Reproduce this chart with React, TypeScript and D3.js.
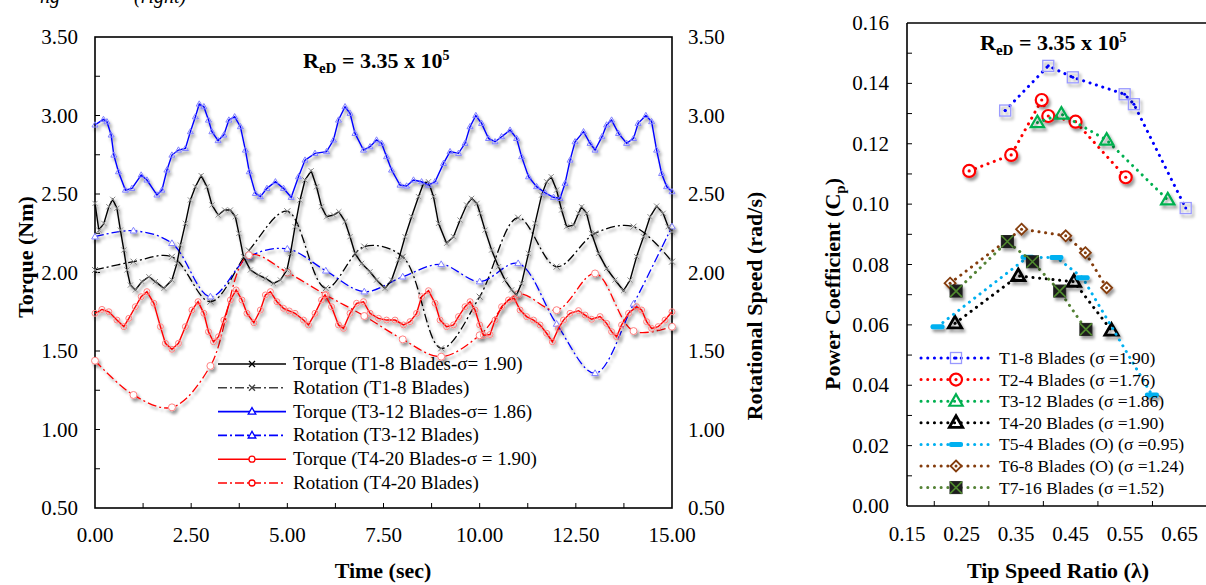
import React from 'react'
import * as d3 from 'd3'

// ---- left chart: torque traces [time (s), torque (Nm)]
const torqueT1: [number, number][] = [
  [0, 2.44], [0.1, 2.27], [0.23, 2.313], [0.36, 2.419], [0.46, 2.466], [0.57, 2.409], [0.66, 2.27],
  [0.75, 2.143], [0.83, 2.016], [0.92, 1.92], [1.05, 1.889], [1.22, 1.942], [1.4, 1.973], [1.57, 1.942],
  [1.79, 1.899], [2.0, 1.952], [2.13, 2.058], [2.22, 2.175], [2.35, 2.313], [2.48, 2.462], [2.61, 2.546],
  [2.76, 2.617], [2.91, 2.546], [3.04, 2.43], [3.2, 2.366], [3.37, 2.398], [3.52, 2.398], [3.65, 2.355],
  [3.74, 2.249], [3.86, 2.101], [4.04, 2.016], [4.25, 1.984], [4.43, 1.963], [4.64, 1.931], [4.82, 1.952],
  [4.99, 2.016], [5.08, 2.12], [5.2, 2.292], [5.33, 2.462], [5.46, 2.589], [5.62, 2.648], [5.76, 2.546],
  [5.89, 2.419], [6.02, 2.355], [6.2, 2.366], [6.34, 2.387], [6.5, 2.324], [6.63, 2.228], [6.76, 2.122],
  [6.93, 2.058], [7.15, 2.005], [7.32, 1.952], [7.54, 1.899], [7.71, 1.952], [7.89, 2.08], [8.06, 2.228],
  [8.23, 2.355], [8.41, 2.483], [8.54, 2.568], [8.67, 2.578], [8.8, 2.483], [8.93, 2.313], [9.14, 2.186],
  [9.32, 2.228], [9.49, 2.334], [9.66, 2.43], [9.79, 2.472], [9.93, 2.44], [10.01, 2.377], [10.14, 2.27],
  [10.31, 2.143], [10.49, 2.037], [10.66, 1.952], [10.83, 1.889], [10.96, 1.857], [11.09, 1.931],
  [11.27, 2.122], [11.44, 2.313], [11.61, 2.493], [11.74, 2.578], [11.86, 2.61], [12.0, 2.525],
  [12.13, 2.398], [12.26, 2.292], [12.44, 2.302], [12.57, 2.377], [12.65, 2.419], [12.78, 2.377],
  [12.91, 2.249], [13.09, 2.122], [13.3, 2.026], [13.52, 1.952], [13.74, 1.884], [13.91, 1.952],
  [14.08, 2.101], [14.26, 2.228], [14.43, 2.355], [14.6, 2.423], [14.77, 2.377], [14.9, 2.292], [15, 2.26],
]

const torqueT3: [number, number][] = [
  [0, 2.94], [0.22, 2.975], [0.31, 2.96], [0.42, 2.876], [0.49, 2.748], [0.61, 2.642], [0.79, 2.525],
  [0.96, 2.536], [1.2, 2.621], [1.35, 2.589], [1.61, 2.494], [1.74, 2.525], [1.87, 2.653], [2.0, 2.748],
  [2.17, 2.78], [2.35, 2.79], [2.48, 2.897], [2.61, 2.992], [2.71, 3.073], [2.83, 3.056], [2.95, 2.971],
  [3.04, 2.897], [3.2, 2.84], [3.35, 2.876], [3.48, 2.971], [3.63, 2.992], [3.78, 2.929], [3.91, 2.78],
  [4.01, 2.642], [4.17, 2.504], [4.3, 2.483], [4.47, 2.536], [4.69, 2.578], [4.9, 2.536], [5.1, 2.479],
  [5.29, 2.61], [5.46, 2.716], [5.72, 2.759], [6.02, 2.77], [6.2, 2.844], [6.33, 2.971], [6.5, 3.056],
  [6.63, 3.014], [6.76, 2.886], [6.98, 2.78], [7.15, 2.801], [7.32, 2.844], [7.45, 2.823], [7.58, 2.738],
  [7.71, 2.653], [7.93, 2.557], [8.1, 2.551], [8.28, 2.589], [8.49, 2.578], [8.67, 2.557], [8.84, 2.578],
  [9.06, 2.695], [9.23, 2.77], [9.45, 2.759], [9.62, 2.823], [9.75, 2.929], [9.9, 3.0], [10.05, 2.95],
  [10.23, 2.854], [10.4, 2.833], [10.57, 2.865], [10.79, 2.907], [10.96, 2.854], [11.09, 2.738],
  [11.27, 2.61], [11.48, 2.547], [11.7, 2.508], [11.92, 2.479], [12.09, 2.472], [12.22, 2.568],
  [12.35, 2.716], [12.48, 2.833], [12.7, 2.897], [12.87, 2.823], [13.0, 2.78], [13.18, 2.865],
  [13.3, 2.94], [13.43, 2.971], [13.61, 2.886], [13.82, 2.823], [14.0, 2.854], [14.12, 2.95],
  [14.32, 3.0], [14.47, 2.961], [14.6, 2.78], [14.73, 2.631], [14.86, 2.547], [15, 2.515],
]

const torqueT4: [number, number][] = [
  [0, 1.74], [0.18, 1.765], [0.36, 1.75], [0.57, 1.697], [0.75, 1.655], [0.88, 1.708], [1.05, 1.782],
  [1.2, 1.846], [1.35, 1.878], [1.53, 1.804], [1.7, 1.655], [1.83, 1.549], [2.0, 1.511], [2.17, 1.549],
  [2.35, 1.655], [2.52, 1.761], [2.68, 1.814], [2.83, 1.74], [2.95, 1.623], [3.08, 1.559], [3.21, 1.591],
  [3.35, 1.697], [3.52, 1.825], [3.67, 1.889], [3.82, 1.825], [3.95, 1.74], [4.13, 1.68], [4.3, 1.761],
  [4.43, 1.857], [4.56, 1.878], [4.73, 1.814], [4.9, 1.772], [5.05, 1.755], [5.2, 1.74], [5.42, 1.697],
  [5.55, 1.666], [5.72, 1.74], [5.89, 1.825], [5.98, 1.857], [6.15, 1.782], [6.33, 1.666], [6.46, 1.644],
  [6.63, 1.74], [6.8, 1.804], [6.98, 1.814], [7.15, 1.74], [7.37, 1.708], [7.58, 1.697], [7.8, 1.697],
  [8.02, 1.666], [8.19, 1.687], [8.36, 1.74], [8.49, 1.846], [8.67, 1.884], [8.84, 1.804], [8.97, 1.697],
  [9.14, 1.655], [9.32, 1.666], [9.45, 1.719], [9.62, 1.782], [9.75, 1.814], [9.88, 1.761], [10.0, 1.666],
  [10.1, 1.6], [10.27, 1.605], [10.4, 1.697], [10.57, 1.782], [10.75, 1.825], [10.9, 1.835], [11.05, 1.761],
  [11.22, 1.719], [11.4, 1.697], [11.57, 1.666], [11.74, 1.613], [11.89, 1.559], [12.05, 1.644],
  [12.18, 1.697], [12.35, 1.74], [12.57, 1.757], [12.74, 1.729], [12.91, 1.702], [13.13, 1.719],
  [13.3, 1.676], [13.43, 1.623], [13.56, 1.591], [13.69, 1.666], [13.87, 1.74], [14.08, 1.782],
  [14.21, 1.761], [14.34, 1.687], [14.47, 1.644], [14.64, 1.655], [14.82, 1.697], [15, 1.75],
]

// rotational speed (rad/s), one reading per second
const rotationTime = [0, 1, 2, 3, 4, 5, 6, 7, 8, 9, 10, 11, 12, 13, 14, 15]
const rotationT1 = [2.016, 2.069, 2.1, 1.814, 2.14, 2.39, 1.9, 2.165, 2.1, 1.517, 1.846, 2.349, 2.037, 2.249, 2.292, 2.069]
const rotationT3 = [2.228, 2.266, 2.186, 1.846, 2.1, 2.15, 2.011, 1.878, 1.973, 2.052, 1.942, 2.058, 1.672, 1.358, 1.8, 2.292]
const rotationT4 = [1.438, 1.22, 1.141, 1.405, 2.11, 2.0, 1.857, 1.723, 1.574, 1.464, 1.6, 1.862, 1.76, 1.994, 1.627, 1.655]

const torqueTicks = [0.5, 1.0, 1.5, 2.0, 2.5, 3.0, 3.5]
const timeTicks = [0, 2.5, 5, 7.5, 10, 12.5, 15]

// ---- right chart: tip speed ratio vs power coefficient
const tsrT1 = [0.33, 0.409, 0.454, 0.549, 0.566, 0.661]
const cpT1 = [0.131, 0.1458, 0.142, 0.1364, 0.1331, 0.0987]
const tsrT2 = [0.264, 0.341, 0.397, 0.409, 0.459, 0.551]
const cpT2 = [0.111, 0.1163, 0.1345, 0.1292, 0.1273, 0.1089]
const tsrT3 = [0.389, 0.433, 0.516, 0.628]
const cpT3 = [0.127, 0.1298, 0.1212, 0.1014]
const tsrT4 = [0.238, 0.354, 0.456, 0.525]
const cpT4 = [0.0605, 0.0762, 0.0743, 0.0581]
const tsrT5 = [0.206, 0.371, 0.424, 0.472, 0.599]
const cpT5 = [0.0594, 0.0824, 0.0823, 0.0756, 0.0368]
const tsrT6 = [0.229, 0.36, 0.441, 0.477, 0.516]
const cpT6 = [0.0738, 0.0917, 0.0895, 0.0839, 0.0723]
const tsrT7 = [0.24, 0.334, 0.38, 0.43, 0.478]
const cpT7 = [0.0712, 0.0876, 0.0809, 0.0712, 0.0585]

const cpTicks = [0, 0.02, 0.04, 0.06, 0.08, 0.1, 0.12, 0.14, 0.16]
const tsrTicks = [0.15, 0.25, 0.35, 0.45, 0.55, 0.65]

const leftLegend = [
  'Torque (T1-8 Blades-σ= 1.90)',
  'Rotation (T1-8 Blades)',
  'Torque (T3-12 Blades-σ= 1.86)',
  'Rotation (T3-12 Blades)',
  'Torque (T4-20 Blades-σ = 1.90)',
  'Rotation (T4-20 Blades)',
]
const rightLegend = [
  'T1-8 Blades (σ =1.90)',
  'T2-4 Blades (σ =1.76)',
  'T3-12 Blades (σ =1.86)',
  'T4-20 Blades (σ =1.90)',
  'T5-4 Blades (O) (σ =0.95)',
  'T6-8 Blades (O) (σ =1.24)',
  'T7-16 Blades (σ =1.52)',
]

const FONT = "'Liberation Serif', 'Times New Roman', serif"
const DASHDOT = '9,3,2,3'
const DOTTED = '0.1,6.6'

type Kind = 'x' | 'triangle' | 'circle' | 'square' | 'diamond' | 'dash' | 'xsquare' | 'circledot'

function Marker({ kind, x, y, s, color, sw = 1.2, fill = 'none', extra }: any) {
  if (kind === 'x')
    return (
      <path d={`M${x - s},${y - s}L${x + s},${y + s}M${x - s},${y + s}L${x + s},${y - s}`} stroke={color} strokeWidth={sw} />
    )
  if (kind === 'triangle')
    return (
      <path
        d={`M${x},${y - s}L${x + s * 0.95},${y + s * 0.65}L${x - s * 0.95},${y + s * 0.65}Z`}
        stroke={color}
        strokeWidth={sw}
        fill={fill}
        strokeLinejoin="miter"
      />
    )
  if (kind === 'circle') return <circle cx={x} cy={y} r={s} stroke={color} strokeWidth={sw} fill={fill} />
  if (kind === 'circledot')
    return (
      <g>
        <circle cx={x} cy={y} r={s} stroke={color} strokeWidth={sw} fill="white" />
        <circle cx={x} cy={y} r={1.6} fill={color} />
      </g>
    )
  if (kind === 'square')
    return (
      <g>
        <rect x={x - s} y={y - s} width={2 * s} height={2 * s} stroke={color} strokeWidth={sw} fill="none" />
        <circle cx={x} cy={y} r={1.5} fill={extra} />
      </g>
    )
  if (kind === 'diamond')
    return (
      <g>
        <path d={`M${x},${y - s}L${x + s},${y}L${x},${y + s}L${x - s},${y}Z`} stroke={color} strokeWidth={sw} fill="white" />
        <circle cx={x} cy={y} r={1.5} fill={color} />
      </g>
    )
  if (kind === 'dash')
    return <rect x={x - 7} y={y - 2.5} width={14} height={5} rx={2} fill={color} />
  // xsquare
  return (
    <g>
      <rect x={x - s} y={y - s} width={2 * s} height={2 * s} fill="#1e1e1e" stroke="#1e1e1e" />
      <path d={`M${x - s},${y - s}L${x + s},${y + s}M${x - s},${y + s}L${x + s},${y - s}`} stroke={color} strokeWidth={1.6} />
    </g>
  )
}

function Reynolds({ x, y }: { x: number; y: number }) {
  return (
    <text x={x} y={y} fontFamily={FONT} fontWeight="bold" fontSize={22}>
      R
      <tspan fontSize={15} dy={5}>eD</tspan>
      <tspan dy={-5}> = 3.35 x 10</tspan>
      <tspan fontSize={14} dy={-8}>5</tspan>
    </text>
  )
}

export default function App() {
  // left panel scales
  const xL = d3.scaleLinear().domain([0, 15]).range([95, 672])
  const yL = d3.scaleLinear().domain([0.5, 3.5]).range([508, 37])
  // right panel scales
  const xR = d3.scaleLinear().domain([0.15, 0.7]).range([907, 1207])
  const yR = d3.scaleLinear().domain([0, 0.16]).range([506, 23])

  const torqueLine = d3
    .line<[number, number]>()
    .x((d) => xL(d[0]))
    .y((d) => yL(d[1]))
  const rotLine = d3
    .line<number>()
    .x((_, i) => xL(rotationTime[i]))
    .y((d) => yL(d))
    .curve(d3.curveCatmullRom.alpha(0.5))

  const torqueSeries = [
    { data: torqueT1, color: '#000000', mk: 'x' as Kind, mkColor: '#8c8c8c', s: 2.6 },
    { data: torqueT3, color: '#0000ff', mk: 'triangle' as Kind, mkColor: '#8080ff', s: 3.2 },
    { data: torqueT4, color: '#ff0000', mk: 'circle' as Kind, mkColor: '#ff8080', s: 3 },
  ]
  const rotationSeries = [
    { data: rotationT1, color: '#000000', mk: 'x' as Kind, mkColor: '#777777', s: 3 },
    { data: rotationT3, color: '#0000ff', mk: 'triangle' as Kind, mkColor: '#8080ff', s: 3.5 },
    { data: rotationT4, color: '#ff0000', mk: 'circle' as Kind, mkColor: '#ff8080', s: 3.5 },
  ]

  const legendLeftStyle = [
    { color: '#000000', dash: undefined, mk: 'x' as Kind, s: 3 },
    { color: '#404040', dash: DASHDOT, mk: 'x' as Kind, s: 3 },
    { color: '#0000ff', dash: undefined, mk: 'triangle' as Kind, s: 4 },
    { color: '#0000ff', dash: DASHDOT, mk: 'triangle' as Kind, s: 4 },
    { color: '#ff0000', dash: undefined, mk: 'circle' as Kind, s: 3 },
    { color: '#ff0000', dash: DASHDOT, mk: 'circle' as Kind, s: 3 },
  ]

  const cpSeries = [
    { tsr: tsrT1, cp: cpT1, color: '#0000ff', mk: 'square' as Kind, mkColor: '#9999ff', s: 5.5, sw: 1.3 },
    { tsr: tsrT2, cp: cpT2, color: '#ff0000', mk: 'circledot' as Kind, mkColor: '#ff0000', s: 6, sw: 2.2 },
    { tsr: tsrT3, cp: cpT3, color: '#00b050', mk: 'triangle' as Kind, mkColor: '#00b050', s: 7, sw: 2.2 },
    { tsr: tsrT4, cp: cpT4, color: '#000000', mk: 'triangle' as Kind, mkColor: '#000000', s: 7, sw: 2.8 },
    { tsr: tsrT5, cp: cpT5, color: '#00b0f0', mk: 'dash' as Kind, mkColor: '#00b0f0', s: 7, sw: 1 },
    { tsr: tsrT6, cp: cpT6, color: '#843c0c', mk: 'diamond' as Kind, mkColor: '#843c0c', s: 5.5, sw: 1.8 },
    { tsr: tsrT7, cp: cpT7, color: '#548235', mk: 'xsquare' as Kind, mkColor: '#4f8a2e', s: 6, sw: 1 },
  ]
  const cpLine = (tsr: number[]) =>
    d3
      .line<number>()
      .x((_, i) => xR(tsr[i]))
      .y((d) => yR(d))

  const minorTorque = d3.range(0.75, 3.5, 0.25)
  const minorTime = d3.range(1.25, 15, 1.25)
  const minorCp = d3.range(0.01, 0.16, 0.01)
  const minorTsr = [0.2, 0.3, 0.4, 0.5, 0.6]

  return (
    <svg
      width={1206}
      height={585}
      style={{ position: 'absolute', left: 0, top: 0, background: 'white' }}
      fontFamily={FONT}
    >
      <defs>
        <filter id="shadow" x="-10%" y="-10%" width="120%" height="130%">
          <feGaussianBlur in="SourceAlpha" stdDeviation="1.8" />
          <feOffset dx="1.5" dy="2.5" result="blur" />
          <feFlood floodColor="#000" floodOpacity="0.4" />
          <feComposite in2="blur" operator="in" />
          <feMerge>
            <feMergeNode />
            <feMergeNode in="SourceGraphic" />
          </feMerge>
        </filter>
      </defs>

      {/* cropped caption line at the top */}
      <text x={0} y={3} fontSize={20} fontStyle="italic">
        <tspan x={40}>ng</tspan>
        <tspan x={134}>(right)</tspan>
      </text>

      {/* ================= LEFT PANEL ================= */}
      <rect x={95} y={37} width={577} height={471} fill="none" stroke="#000" strokeWidth={1.6} />
      {minorTorque.map((v) => (
        <line key={'mt' + v} x1={95} x2={100} y1={yL(v)} y2={yL(v)} stroke="#000" />
      ))}
      {minorTime.map((t) => (
        <line key={'mx' + t} x1={xL(t)} x2={xL(t)} y1={508} y2={503} stroke="#000" />
      ))}
      {torqueTicks.map((v) => (
        <g key={'tl' + v} fontSize={21}>
          <text x={78} y={yL(v) + 7} textAnchor="end">
            {v.toFixed(2)}
          </text>
          <text x={688} y={yL(v) + 7}>
            {v.toFixed(2)}
          </text>
        </g>
      ))}
      {timeTicks.map((t) => (
        <text key={'xl' + t} x={xL(t)} y={542} textAnchor="middle" fontSize={21}>
          {t.toFixed(2)}
        </text>
      ))}
      <text x={383} y={578} textAnchor="middle" fontWeight="bold" fontSize={22}>
        Time (sec)
      </text>
      <text transform="translate(33,257) rotate(-90)" textAnchor="middle" fontWeight="bold" fontSize={22}>
        Torque (Nm)
      </text>
      <text transform="translate(762,306) rotate(-90)" textAnchor="middle" fontWeight="bold" fontSize={22}>
        Rotational Speed (rad/s)
      </text>
      <Reynolds x={303} y={68} />

      {rotationSeries.map((s, k) => (
        <g key={'rot' + k} filter="url(#shadow)">
          <path d={rotLine(s.data) || ''} fill="none" stroke={s.color} strokeWidth={1.3} strokeDasharray={DASHDOT} />
          {s.data.map((v, i) => (
            <Marker key={i} kind={s.mk} x={xL(rotationTime[i])} y={yL(v)} s={s.s} color={s.mkColor} sw={1} fill="white" />
          ))}
        </g>
      ))}
      {torqueSeries.map((s, k) => (
        <g key={'tq' + k} filter="url(#shadow)">
          <path d={torqueLine(s.data) || ''} fill="none" stroke={s.color} strokeWidth={1.4} />
          {s.data.map((d, i) => (
            <Marker key={i} kind={s.mk} x={xL(d[0])} y={yL(d[1])} s={s.s} color={s.mkColor} sw={1} />
          ))}
        </g>
      ))}

      {leftLegend.map((label, i) => {
        const st = legendLeftStyle[i]
        const y = 364 + i * 23.8
        return (
          <g key={'ll' + i}>
            <line x1={218} x2={286} y1={y} y2={y} stroke={st.color} strokeWidth={1.6} strokeDasharray={st.dash} />
            <Marker kind={st.mk} x={252} y={y} s={st.s} color={st.color} sw={1.3} fill="white" />
            <text x={293} y={y + 6} fontSize={19}>
              {label}
            </text>
          </g>
        )
      })}

      {/* ================= RIGHT PANEL ================= */}
      <line x1={907} x2={907} y1={23} y2={506} stroke="#000" strokeWidth={1.6} />
      <line x1={907} x2={1206} y1={23} y2={23} stroke="#000" strokeWidth={1.6} />
      <line x1={907} x2={1206} y1={506} y2={506} stroke="#000" strokeWidth={1.6} />
      {minorCp.map((v) => (
        <line key={'mc' + v} x1={907} x2={912} y1={yR(v)} y2={yR(v)} stroke="#000" />
      ))}
      {minorTsr.map((v) => (
        <line key={'ms' + v} x1={xR(v)} x2={xR(v)} y1={506} y2={501} stroke="#000" />
      ))}
      {cpTicks.map((v) => (
        <text key={'cl' + v} x={889} y={yR(v) + 7} textAnchor="end" fontSize={21}>
          {v.toFixed(2)}
        </text>
      ))}
      {tsrTicks.map((v) => (
        <text key={'sl' + v} x={xR(v)} y={541} textAnchor="middle" fontSize={21}>
          {v.toFixed(2)}
        </text>
      ))}
      <text x={1058} y={578} textAnchor="middle" fontWeight="bold" fontSize={22}>
        Tip Speed Ratio (λ)
      </text>
      <text transform="translate(840,284) rotate(-90)" textAnchor="middle" fontWeight="bold" fontSize={22}>
        Power Coefficient (C<tspan fontSize={15} dy={5}>p</tspan>
        <tspan dy={-5}>)</tspan>
      </text>
      <Reynolds x={980} y={50} />

      {cpSeries.map((s, k) => (
        <g key={'cp' + k}>
          <path
            d={cpLine(s.tsr)(s.cp) || ''}
            fill="none"
            stroke={s.color}
            strokeWidth={3}
            strokeLinecap="round"
            strokeDasharray={DOTTED}
          />
          <g filter="url(#shadow)">
            {s.cp.map((v, i) => (
              <Marker key={i} kind={s.mk} x={xR(s.tsr[i])} y={yR(v)} s={s.s} color={s.mkColor} sw={s.sw} extra={s.color} />
            ))}
          </g>
        </g>
      ))}

      {rightLegend.map((label, i) => {
        const s = cpSeries[i]
        const y = 358 + i * 21.6
        return (
          <g key={'rl' + i}>
            <line
              x1={921}
              x2={992}
              y1={y}
              y2={y}
              stroke={s.color}
              strokeWidth={3}
              strokeLinecap="round"
              strokeDasharray={DOTTED}
            />
            <Marker kind={s.mk} x={956} y={y} s={s.s} color={s.mkColor} sw={s.sw} extra={s.color} />
            <text x={999} y={y + 6} fontSize={17.5}>
              {label}
            </text>
          </g>
        )
      })}
    </svg>
  )
}
